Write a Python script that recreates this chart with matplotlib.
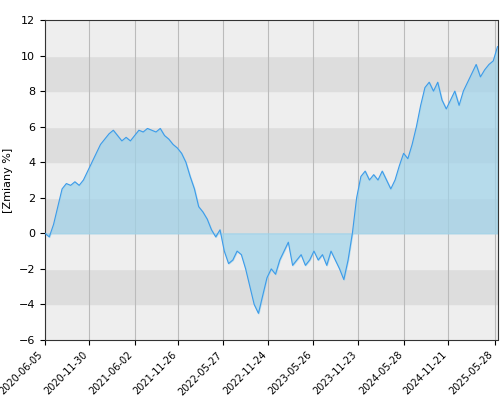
import matplotlib
matplotlib.use("Agg")
import matplotlib.pyplot as plt
import pandas as pd

# fund change in %, evenly spaced in time
values = [0.0, -0.2, 0.5, 1.5, 2.5, 2.8, 2.7, 2.9, 2.7, 3.0, 3.5, 4.0, 4.5, 5.0,
          5.3, 5.6, 5.8, 5.5, 5.2, 5.4, 5.2, 5.5, 5.8, 5.7, 5.9, 5.8, 5.7, 5.9,
          5.5, 5.3, 5.0, 4.8, 4.5, 4.0, 3.2, 2.5, 1.5, 1.2, 0.8, 0.2, -0.2, 0.2,
          -1.0, -1.7, -1.5, -1.0, -1.2, -2.0, -3.0, -4.0, -4.5, -3.5, -2.5, -2.0,
          -2.3, -1.5, -1.0, -0.5, -1.8, -1.5, -1.2, -1.8, -1.5, -1.0, -1.5, -1.2,
          -1.8, -1.0, -1.5, -2.0, -2.6, -1.5, 0.0, 2.0, 3.2, 3.5, 3.0, 3.3, 3.0,
          3.5, 3.0, 2.5, 3.0, 3.8, 4.5, 4.2, 5.0, 6.0, 7.2, 8.2, 8.5, 8.0, 8.5,
          7.5, 7.0, 7.5, 8.0, 7.2, 8.0, 8.5, 9.0, 9.5, 8.8, 9.2, 9.5, 9.7, 10.5]
start_date = "2020-06-05"
end_date = "2025-06-08"
tick_labels = ["2020-06-05", "2020-11-30", "2021-06-02", "2021-11-26", "2022-05-27",
               "2022-11-24", "2023-05-26", "2023-11-23", "2024-05-28", "2024-11-21",
               "2025-05-28"]

dates = pd.date_range(start_date, end_date, periods=len(values))

fig, ax = plt.subplots(figsize=(5, 4), dpi=100)
fig.subplots_adjust(left=0.09, right=0.995, top=0.95, bottom=0.15)

# alternating horizontal bands
for i, lo in enumerate(range(-6, 12, 2)):
    ax.axhspan(lo, lo + 2, color="#eeeeee" if i % 2 == 0 else "#dddddd", zorder=0)

ticks = pd.to_datetime(tick_labels)
for t in ticks:
    ax.axvline(t, color="#bbbbbb", lw=0.8, zorder=1)

ax.fill_between(dates, values, 0, color="#9fd3ea", alpha=0.7, zorder=2)
ax.plot(dates, values, color="#3d9be9", lw=0.8, zorder=3)

ax.set_ylim(-6, 12)
ax.set_xlim(pd.Timestamp(start_date), pd.Timestamp(end_date))
ax.set_yticks(range(-6, 13, 2))
ax.set_xticks(ticks)
ax.set_xticklabels(tick_labels, rotation=45, ha="right", fontsize=7)
ax.tick_params(axis="y", labelsize=8)
ax.set_ylabel("[Zmiany %]", fontsize=8)
for s in ax.spines.values():
    s.set_color("#333333")

plt.savefig("out.png")
